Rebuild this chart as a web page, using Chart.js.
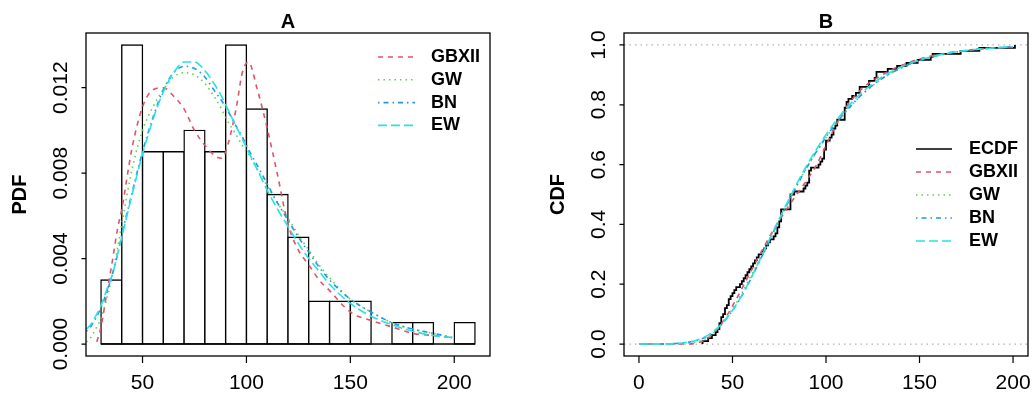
<!DOCTYPE html>
<html><head><meta charset="utf-8">
<script src="https://cdn.jsdelivr.net/npm/chart.js@4.4.1/dist/chart.umd.min.js"></script>
<style>
html,body{margin:0;padding:0;background:#fff;}
#wrap{position:relative;width:1032px;height:395px;overflow:hidden;}
.pane{position:absolute;top:0;width:516px;height:395px;}
canvas{display:block;}
</style></head><body>
<div id="wrap">
<div class="pane" style="left:0"><canvas id="cA" width="516" height="395"></canvas></div>
<div class="pane" style="left:516px"><canvas id="cB" width="516" height="395"></canvas></div>
</div>
<script>
// ---------- Panel A data: histogram (density per bin of width 10) ----------
const binEdges = [30,40,50,60,70,80,90,100,110,120,130,140,150,160,170,180,190,200,210];
const binDensity = [0.003,0.014,0.009,0.009,0.010,0.009,0.014,0.011,0.007,0.005,0.002,0.002,0.002,0,0.001,0.001,0,0.001];

// ---------- Panel A: fitted density curves ----------
const pdfX     = [23,25,28,30,33,35,38,40,45,50,55,60,65,70,75,80,85,88,90,95,98,101,105,110,115,120,125,130,135,140,150,160,170,180,190,199];
const pdfGBXII = [null,null,0.0001,0.0008,0.0025,0.0036,0.0054,0.0063,0.0092,0.0111,0.0119,0.0120,0.0116,0.0110,0.0100,0.0093,0.0088,0.0087,0.0090,0.0110,0.0127,0.0132,0.0120,0.0101,0.0079,0.0056,0.0044,0.0037,0.0030,0.0025,0.0015,0.0011,0.0008,0.0005,0.0004,0.0003];
const pdfGW    = [0.0001,0.0003,0.0008,0.0012,0.0022,0.0030,0.0045,0.0056,0.0082,0.0100,0.0111,0.0119,0.0125,0.0127,0.0126,0.0122,0.0115,0.0110,0.0106,0.0098,0.0093,0.0089,0.0082,0.0074,0.0066,0.0059,0.0051,0.0044,0.0037,0.0031,0.0021,0.0015,0.0010,0.0007,0.0005,0.0003];
const pdfBN    = [0.0006,0.0008,0.0013,0.0017,0.0025,0.0031,0.0042,0.0051,0.0071,0.0090,0.0106,0.0119,0.0127,0.0130,0.0129,0.0125,0.0118,0.0114,0.0111,0.0102,0.0097,0.0091,0.0084,0.0075,0.0066,0.0058,0.0050,0.0043,0.0036,0.0030,0.0021,0.0015,0.0010,0.0007,0.0005,0.0003];
const pdfEW    = [0.0007,0.0009,0.0014,0.0018,0.0026,0.0031,0.0042,0.0050,0.0070,0.0089,0.0105,0.0118,0.0127,0.0132,0.0132,0.0128,0.0121,0.0116,0.0112,0.0102,0.0096,0.0090,0.0082,0.0072,0.0063,0.0055,0.0047,0.0040,0.0034,0.0028,0.0019,0.0013,0.0009,0.0006,0.0004,0.0003];

// ---------- Panel B: observations (for the ECDF) ----------
const observations = [34,37,39,41,42,43,43,44,44,45,46,46,47,48,48,49,50,51,52,54,55,56,57,58,59,60,61,62,63,64,66,67,68,69,70,72,73,74,74,75,75,76,76,76,76,81,81,81,81,81,83,88,89,90,91,91,91,91,92,96,97,98,99,99,99,100,100,100,102,103,104,104,105,106,106,110,110,110,110,111,111,112,114,116,118,118,123,123,126,127,127,133,138,143,149,156,157,172,182,201];

// ---------- Panel B: fitted CDF curves ----------
const cdfX     = [0,10,20,25,30,35,40,45,50,55,60,65,70,75,80,85,90,95,100,105,110,115,120,130,140,150,160,170,180,190,200];
const cdfGBXII = [0,0,0,0,0.002,0.013,0.037,0.076,0.127,0.185,0.245,0.304,0.361,0.413,0.461,0.506,0.550,0.600,0.664,0.728,0.784,0.826,0.858,0.900,0.931,0.953,0.968,0.978,0.985,0.990,0.993];
const cdfGW    = [0,0,0.001,0.002,0.006,0.016,0.037,0.072,0.117,0.170,0.229,0.291,0.355,0.418,0.479,0.537,0.592,0.643,0.690,0.733,0.772,0.807,0.838,0.887,0.922,0.948,0.965,0.977,0.985,0.990,0.994];
const cdfBN    = [0,0,0.002,0.005,0.010,0.022,0.042,0.072,0.112,0.162,0.220,0.284,0.349,0.414,0.477,0.537,0.593,0.645,0.692,0.735,0.774,0.808,0.839,0.888,0.923,0.948,0.965,0.977,0.985,0.990,0.994];
const cdfEW    = [0,0,0.002,0.005,0.011,0.023,0.043,0.073,0.113,0.163,0.222,0.286,0.352,0.418,0.482,0.543,0.600,0.652,0.700,0.743,0.782,0.816,0.846,0.893,0.926,0.950,0.966,0.977,0.985,0.990,0.994];

// ---------- ticks ----------
const xTicksA = [50,100,150,200];
const yTicksA = [0,0.004,0.008,0.012];
const yTickLabelsA = ['0.000','0.004','0.008','0.012'];
const xTicksB = [0,50,100,150,200];
const yTicksB = [0,0.2,0.4,0.6,0.8,1.0];
const yTickLabelsB = ['0.0','0.2','0.4','0.6','0.8','1.0'];

// ---------- styles ----------
const COL = {GBXII:'#DF536B', GW:'#61D04F', BN:'#2297E6', EW:'#28E2E5', ECDF:'#000000'};
const DASH = {GBXII:[5,5], GW:[1.5,4], BN:[1.5,4,5,4], EW:[9,4], ECDF:[]};
const LW = 1.6;
const BAR_LW = 1.4;
const FONT = '"Liberation Sans", Arial, Helvetica, sans-serif';

const toPts = (xs, ys) => xs.map((x,i)=>({x:x, y:ys[i]}));

function curve(name, xs, ys, order) {
  return {type:'line', label:name, data:toPts(xs,ys), borderColor:COL[name], borderDash:DASH[name],
    borderWidth:LW, pointRadius:0, fill:false, cubicInterpolationMode:'monotone', spanGaps:false, order:order};
}

function makeDeco(cfg) {
  return {
    id:'rdeco'+cfg.title,
    afterDraw(chart) {
      const ctx = chart.ctx, a = chart.chartArea, xs = chart.scales.x, ys = chart.scales.y;
      ctx.save();
      ctx.setLineDash([]);
      ctx.strokeStyle = '#000';
      ctx.lineWidth = 1.3;
      ctx.strokeRect(a.left, a.top, a.right - a.left, a.bottom - a.top);
      ctx.lineWidth = 1.2;
      ctx.beginPath();
      cfg.xTicks.forEach(v => { const p = xs.getPixelForValue(v); ctx.moveTo(p, a.bottom); ctx.lineTo(p, a.bottom + 7); });
      cfg.yTicks.forEach(v => { const p = ys.getPixelForValue(v); ctx.moveTo(a.left, p); ctx.lineTo(a.left - 4.5, p); });
      ctx.stroke();
      ctx.fillStyle = '#000';
      ctx.textAlign = 'center';
      ctx.textBaseline = 'middle';
      ctx.font = '21px ' + FONT;
      cfg.xTicks.forEach(v => ctx.fillText(String(v), xs.getPixelForValue(v), a.bottom + 27.5));
      cfg.yTicks.forEach((v,i) => {
        ctx.save(); ctx.translate(a.left - 24.3, ys.getPixelForValue(v)); ctx.rotate(-Math.PI/2);
        ctx.fillText(cfg.yTickLabels[i], 0, 0); ctx.restore();
      });
      ctx.font = 'bold 20px ' + FONT;
      ctx.fillText(cfg.title, (a.left + a.right)/2, 22);
      ctx.save(); ctx.translate(a.left - 66, (a.top + a.bottom)/2); ctx.rotate(-Math.PI/2);
      ctx.fillText(cfg.ylab, 0, 0); ctx.restore();
      // legend
      ctx.font = 'bold 18px ' + FONT;
      ctx.textAlign = 'left';
      cfg.legend.forEach((name, i) => {
        const y = cfg.legY + i * cfg.legDy;
        ctx.strokeStyle = COL[name]; ctx.lineWidth = LW; ctx.setLineDash(DASH[name]);
        ctx.beginPath(); ctx.moveTo(cfg.legX1, y); ctx.lineTo(cfg.legX2, y); ctx.stroke();
        ctx.setLineDash([]);
        ctx.fillStyle = '#000';
        ctx.fillText(name, cfg.legTx, y);
      });
      ctx.restore();
    }
  };
}

// ---------- Chart A ----------
const histData = binDensity.map((d,i)=>({x:(binEdges[i]+binEdges[i+1])/2, y:d}));
new Chart(document.getElementById('cA'), {
  type:'bar',
  data:{datasets:[
    {type:'bar', label:'hist', data:histData, backgroundColor:'#ffffff', borderColor:'#000000', borderWidth:BAR_LW,
      borderSkipped:false, barPercentage:1, categoryPercentage:1, inflateAmount:BAR_LW/2, order:20},
    {type:'line', label:'base', data:[{x:binEdges[0],y:0},{x:binEdges[binEdges.length-1],y:0}], borderColor:'#000',
      borderWidth:BAR_LW, pointRadius:0, order:19},
    curve('GBXII', pdfX, pdfGBXII, 4),
    curve('GW', pdfX, pdfGW, 3),
    curve('BN', pdfX, pdfBN, 2),
    curve('EW', pdfX, pdfEW, 1)
  ]},
  options:{
    responsive:false, devicePixelRatio:1, animation:false,
    layout:{padding:{left:86, right:26, top:33, bottom:39}},
    plugins:{legend:{display:false}, tooltip:{enabled:false}, title:{display:false}},
    scales:{
      x:{type:'linear', display:false, offset:false, min:22.8, max:217.2,
         afterBuildTicks:(s)=>{ s.ticks = xTicksA.map(v=>({value:v})); }},
      y:{type:'linear', display:false, min:-0.00056, max:0.01456,
         afterBuildTicks:(s)=>{ s.ticks = yTicksA.map(v=>({value:v})); }}
    }
  },
  plugins:[makeDeco({title:'A', ylab:'PDF', xTicks:xTicksA, yTicks:yTicksA, yTickLabels:yTickLabelsA,
    legend:['GBXII','GW','BN','EW'], legX1:378, legX2:415, legTx:431, legY:57, legDy:22.8})]
});

// ---------- Chart B ----------
const n = observations.length;
const ecdfPts = [{x:observations[0], y:0}];
observations.forEach((v,i)=>{
  if (i === n-1 || observations[i+1] !== v) ecdfPts.push({x:v, y:(i+1)/n});
});
const xMinB = -8, xMaxB = 208;
new Chart(document.getElementById('cB'), {
  type:'line',
  data:{datasets:[
    {label:'h0', data:[{x:xMinB,y:0},{x:xMaxB,y:0}], borderColor:'#B3B3B3', borderDash:[1.5,4], borderWidth:1.2, pointRadius:0, order:30},
    {label:'h1', data:[{x:xMinB,y:1},{x:xMaxB,y:1}], borderColor:'#B3B3B3', borderDash:[1.5,4], borderWidth:1.2, pointRadius:0, order:29},
    {label:'ECDF', data:ecdfPts, stepped:'before', borderColor:'#000', borderWidth:1.8, pointRadius:0, order:20},
    curve('GBXII', cdfX, cdfGBXII, 4),
    curve('GW', cdfX, cdfGW, 3),
    curve('BN', cdfX, cdfBN, 2),
    curve('EW', cdfX, cdfEW, 1)
  ]},
  options:{
    responsive:false, devicePixelRatio:1, animation:false,
    layout:{padding:{left:108, right:4, top:33, bottom:39}},
    plugins:{legend:{display:false}, tooltip:{enabled:false}, title:{display:false}},
    scales:{
      x:{type:'linear', display:false, min:xMinB, max:xMaxB},
      y:{type:'linear', display:false, min:-0.04, max:1.04}
    }
  },
  plugins:[makeDeco({title:'B', ylab:'CDF', xTicks:xTicksB, yTicks:yTicksB, yTickLabels:yTickLabelsB,
    legend:['ECDF','GBXII','GW','BN','EW'], legX1:400, legX2:436, legTx:453, legY:149, legDy:23})]
});
</script>
</body></html>
